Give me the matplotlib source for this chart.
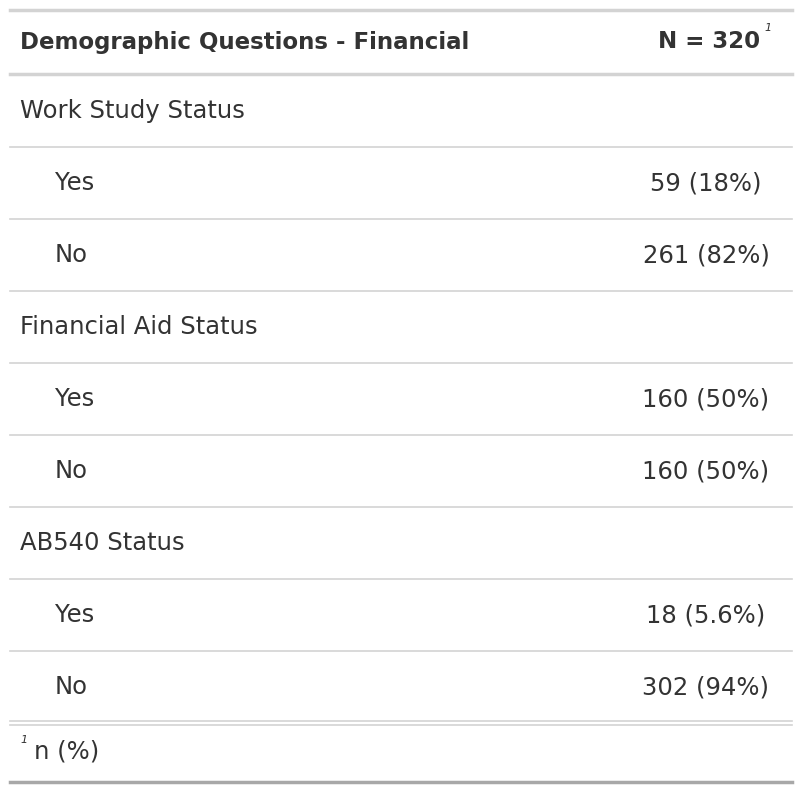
import matplotlib
matplotlib.use("Agg")
import matplotlib.pyplot as plt

header_label = "Demographic Questions - Financial"
header_n = "N = 320"
variables = ["Work Study Status", "Financial Aid Status", "AB540 Status"]
levels = [["Yes", "No"], ["Yes", "No"], ["Yes", "No"]]
counts = [[59, 261], [160, 160], [18, 302]]
pct_labels = [["18%", "82%"], ["50%", "50%"], ["5.6%", "94%"]]
footnote = "n (%)"

W, H = 802, 790
fig = plt.figure(figsize=(W / 100, H / 100), dpi=100)
ax = fig.add_axes([0, 0, 1, 1])
ax.set_xlim(0, W)
ax.set_ylim(H, 0)
ax.axis("off")

fam = ["DejaVu Sans"]
txt = "#333333"
lc = "#d3d3d3"
x0, x1 = 10, 792
fs = 17.5

ax.plot([x0, x1], [10, 10], color=lc, lw=2.5)
ax.text(20, 42, header_label, fontsize=16.5, fontweight="bold", color=txt, family=fam, va="center")
ax.text(760, 42, header_n, fontsize=16.5, fontweight="bold", color=txt, family=fam, va="center", ha="right")
ax.text(764, 28, "1", fontsize=8, style="italic", color=txt, family=fam, va="center")
ax.plot([x0, x1], [74, 74], color=lc, lw=2.5)

y = 111
row_h = 72
for var, lv, cn, pc in zip(variables, levels, counts, pct_labels):
    ax.text(20, y, var, fontsize=fs, color=txt, family=fam, va="center")
    ax.plot([x0, x1], [y + 36, y + 36], color=lc, lw=1.2)
    y += row_h
    for l, c, p in zip(lv, cn, pc):
        ax.text(55, y, l, fontsize=fs, color=txt, family=fam, va="center")
        ax.text(706, y, f"{c} ({p})", fontsize=fs, color=txt, family=fam, va="center", ha="center")
        if y + 36 < 720:
            ax.plot([x0, x1], [y + 36, y + 36], color=lc, lw=1.2)
        y += row_h

ax.plot([x0, x1], [721, 721], color=lc, lw=1.2)
ax.plot([x0, x1], [725, 725], color=lc, lw=1.2)
ax.text(20, 740, "1", fontsize=8, style="italic", color=txt, family=fam, va="center")
ax.text(34, 752, footnote, fontsize=fs, color=txt, family=fam, va="center")
ax.plot([x0, x1], [782, 782], color="#a8a8a8", lw=2.5)

fig.savefig("out.png", dpi=100, facecolor="white")
